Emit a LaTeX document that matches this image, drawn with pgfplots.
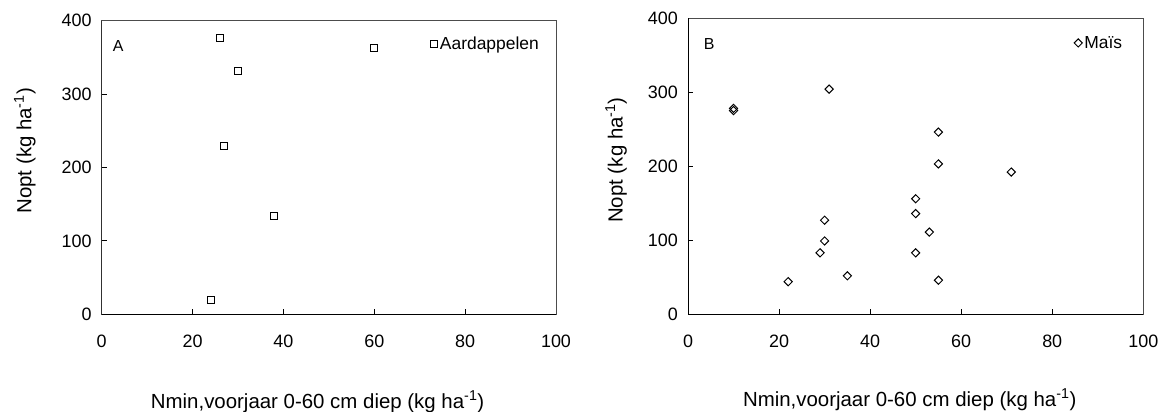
\documentclass[border=0pt]{standalone}
\usepackage{pgfplots}
\pgfplotsset{compat=1.18}
\usepackage{fontspec}
\setmainfont{Liberation Sans}
\newcommand{\tickfont}{\fontsize{18}{21}\selectfont}
\newcommand{\labfont}{\fontsize{20.5}{24}\selectfont}
\newcommand{\legfont}{\fontsize{17.5}{20}\selectfont}
\newcommand{\panfont}{\fontsize{16}{19}\selectfont}
\pgfplotsset{
  myaxis/.style={
    scale only axis, anchor=south west,
    xmin=0, xmax=100, ymin=0, ymax=400,
    xtick={0,20,40,60,80,100}, ytick={0,100,200,300,400},
    tick align=inside, xtick pos=left, ytick pos=left,
    major tick length=5bp,
    tick style={black, line width=0.8bp},
    axis line style={black!70, line width=0.7bp},
    tick label style={font=\tickfont, inner sep=0pt, /pgf/number format/assume math mode=true},
    xticklabel style={yshift=-20bp},
    yticklabel style={xshift=-10bp},
    legend style={draw=none, fill=none, font=\legfont, at={(1,1)}, anchor=north east, inner sep=0pt},
    legend image code/.code={\draw[mark repeat=2,mark phase=2,##1] plot coordinates {(0bp,0bp)(9bp,0bp)(18bp,0bp)};},
  }
}
\begin{document}
\begin{tikzpicture}
\path[use as bounding box] (0,0) rectangle (1160bp,412bp);
% Panel A
\begin{axis}[myaxis, at={(101.7bp,97.7bp)}, width=454.3bp, height=293.6bp,
  legend style={xshift=-15bp, yshift=-14bp}]
\addplot[only marks, mark=square, mark size=3.5bp, mark options={black, line width=1bp, fill=white}]
  coordinates {(26,376) (30,332) (27,229) (38,134) (24,20) (60,363)};
\addlegendentry{Aardappelen}
\draw[line width=1.3bp, black] (rel axis cs:0,1) |- (rel axis cs:1,0);
\end{axis}
% Panel B
\begin{axis}[myaxis, at={(688bp,97.7bp)}, width=455.3bp, height=296.3bp,
  legend style={xshift=-19bp, yshift=-16bp}]
\addplot[only marks, mark=square, mark size=2.9bp, mark options={black, line width=1bp, fill=white, rotate=45}]
  coordinates {(10,275) (10,278) (31,304) (55,246) (55,203) (71,192) (50,156) (50,136)
               (53,111) (30,127) (30,99) (29,83) (50,83) (35,52) (22,44) (55,46)};
\addlegendentry{Maïs}
\draw[line width=1.3bp, black] (rel axis cs:0,1) |- (rel axis cs:1,0);
\end{axis}
% panel letters
\node[anchor=base west, inner sep=0pt, font=\panfont] at (112.6bp,360.3bp) {A};
\node[anchor=base west, inner sep=0pt, font=\panfont] at (703.7bp,362bp) {B};
% axis labels
\node[anchor=base, inner sep=0pt, font=\labfont] at (317.6bp,4bp) {Nmin,voorjaar 0-60 cm diep (kg ha\textsuperscript{-1})};
\node[anchor=base, inner sep=0pt, font=\labfont] at (909.7bp,6bp) {Nmin,voorjaar 0-60 cm diep (kg ha\textsuperscript{-1})};
\node[anchor=base, rotate=90, inner sep=0pt, font=\labfont] at (31.4bp,261.2bp) {Nopt (kg ha\textsuperscript{-1})};
\node[anchor=base, rotate=90, inner sep=0pt, font=\labfont] at (622.5bp,252bp) {Nopt (kg ha\textsuperscript{-1})};
\end{tikzpicture}
\end{document}
